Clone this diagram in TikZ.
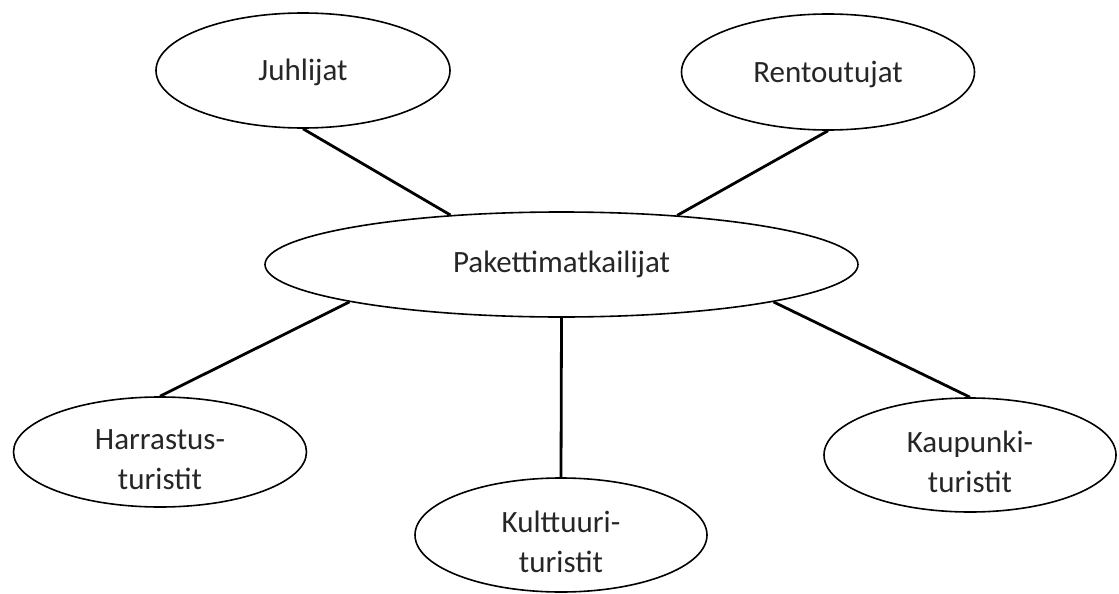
\documentclass[tikz,border=0pt]{standalone}
\usepackage{fontspec}
\setmainfont{Carlito}
\usetikzlibrary{shapes.geometric}

\newcommand{\lowtxt}{\rule{0pt}{36pt}}

\begin{document}
\begin{tikzpicture}[x=1pt,y=-1pt,
    bubble/.style={ellipse,draw,line width=1.6pt,inner sep=0pt,align=center,
      text=black!85,font=\fontsize{31}{40}\selectfont},
    link/.style={line width=2.8pt}]
    \useasboundingbox (0,0) rectangle (1119,594);
    \draw
    (303,70.5) node[bubble,minimum width=294pt,minimum height=115pt] (juhl) {\rule{0pt}{26pt}Juhlijat}
    (828,72) node[bubble,minimum width=293pt,minimum height=116pt] (rent) {\rule{0pt}{26pt}Rentoutujat}
    (561.5,264.5) node[bubble,minimum width=593pt,minimum height=105pt] (pak) {Pakettimatkailijat}
    (160,452) node[bubble,minimum width=293pt,minimum height=110pt] (harr) {\lowtxt Harrastus-\\turistit}
    (561,535) node[bubble,minimum width=292pt,minimum height=114pt] (kult) {\lowtxt Kulttuuri-\\turistit}
    (970,455) node[bubble,minimum width=292pt,minimum height=114pt] (kaup) {\lowtxt Kaupunki-\\turistit}
    ;
    \draw[link] (pak.156) -- (juhl.south);
    \draw[link] (pak.23) -- (rent.south);
    \draw[link] (pak.190) -- (harr.north);
    \draw[link] (pak.south) -- (kult.north);
    \draw[link] (pak.350) -- (kaup.north);
\end{tikzpicture}
\end{document}
